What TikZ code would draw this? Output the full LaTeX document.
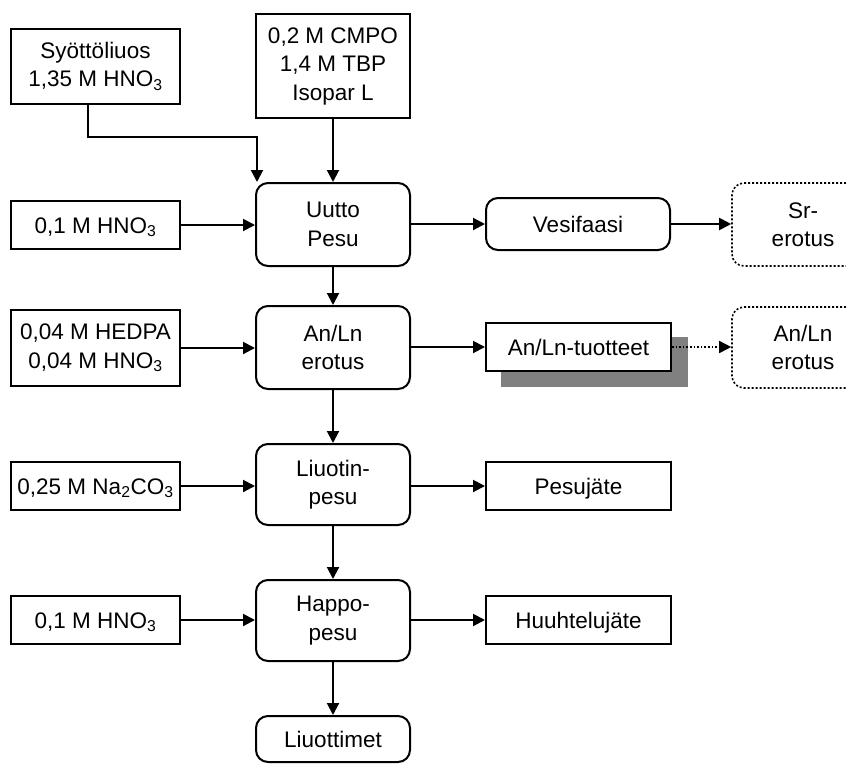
\documentclass[tikz,border=0pt]{standalone}
\usepackage{fontspec}
\setmainfont{Liberation Sans}
\usetikzlibrary{arrows.meta,calc,backgrounds}
\begin{document}
\begin{tikzpicture}[x=1pt,y=-1pt,
  every node/.style={font=\fontsize{22.5}{28.5}\selectfont, align=center, inner sep=0pt, line width=2pt},
  oneline/.style={text height=16pt, text depth=0pt},
  feed/.style={draw, rectangle, minimum width=169pt},
  stage/.style={draw, rounded corners=12pt, minimum width=154pt},
  outbox/.style={draw, rectangle, fill=white, minimum width=185pt, oneline},
  further/.style={draw, dotted, line width=1.6pt, rounded corners=12pt, minimum width=142pt},
  arr/.style={line width=2pt, -{Triangle[length=12pt,width=12pt]}},
  darr/.style={line width=1.6pt, dotted, -{Triangle[length=12pt,width=12pt]}}]
\useasboundingbox (0,0) rectangle (846,764);

% feed solutions on the left
\node[feed, minimum height=75pt] (syo) at (95.5,66.5) {Syöttöliuos\\1,35 M HNO\textsubscript{3}};
\node[feed, oneline, minimum height=48pt] (hno1) at (95.5,225) {0,1 M HNO\textsubscript{3}};
\node[feed, minimum height=76pt] (hedpa) at (95.5,348) {0,04 M HEDPA\\0,04 M HNO\textsubscript{3}};
\node[feed, oneline, minimum height=48pt] (na) at (95.5,486) {0,25 M Na\textsubscript{2}CO\textsubscript{3}};
\node[feed, oneline, minimum height=48pt] (hno2) at (95.5,620) {0,1 M HNO\textsubscript{3}};

% solvent
\node[draw, rectangle, minimum width=154pt, minimum height=104pt] (cmpo) at (333,66) {0,2 M CMPO\\1,4 M TBP\\Isopar L};

% process stages
\node[stage, minimum height=83pt] (uutto) at (333,224.5) {Uutto\\Pesu};
\node[stage, minimum height=83pt] (anln) at (333,347.5) {An/Ln\\erotus};
\node[stage, minimum height=81pt] (liuotin) at (333,484.5) {Liuotin-\\pesu};
\node[stage, minimum height=81pt] (happo) at (333,620.5) {Happo-\\pesu};
\node[stage, oneline, minimum height=46pt] (liuott) at (333,739) {Liuottimet};

% product streams
\node[stage, oneline, minimum width=184pt, minimum height=52pt] (vesi) at (578,224) {Vesifaasi};
\node[outbox, minimum height=48pt] (tuot) at (578.5,347) {An/Ln-tuotteet};
\node[outbox, minimum height=48pt] (pesuj) at (578.5,486) {Pesujäte};
\node[outbox, minimum height=48pt] (huuh) at (578.5,620) {Huuhtelujäte};

% further treatment
\node[further, minimum height=83pt] (sr) at (803,224.5) {Sr-\\erotus};
\node[further, minimum height=81pt] (anlnsep) at (803,347.5) {An/Ln\\erotus};

% shadow behind the product box
\begin{scope}[on background layer]
  \fill[gray] ($(tuot.south west)+(16,15)$) rectangle ($(tuot.north east)+(16,15)$);
\end{scope}

% connectors
\coordinate (bend) at (257,137);
\draw[arr] ($(syo.south)+(-7.5,0)$) |- (bend) -- (bend |- uutto.north);
\draw[arr] (cmpo) -- (uutto);
\draw[arr] (hno1) -- (hno1 -| uutto.west);
\draw[arr] (uutto) -- (anln);
\draw[arr] (hedpa) -- (hedpa -| anln.west);
\draw[arr] (anln) -- (liuotin);
\draw[arr] (na) -- (na -| liuotin.west);
\draw[arr] (liuotin) -- (happo);
\draw[arr] (hno2) -- (hno2 -| happo.west);
\draw[arr] (happo) -- (liuott);
\draw[arr] (uutto.east |- vesi) -- (vesi);
\draw[arr] (vesi) -- (vesi -| sr.west);
\draw[arr] (anln.east |- tuot) -- (tuot);
\draw[darr] (tuot) -- (tuot -| anlnsep.west);
\draw[arr] (liuotin.east |- pesuj) -- (pesuj);
\draw[arr] (happo.east |- huuh) -- (huuh);
\end{tikzpicture}
\end{document}
